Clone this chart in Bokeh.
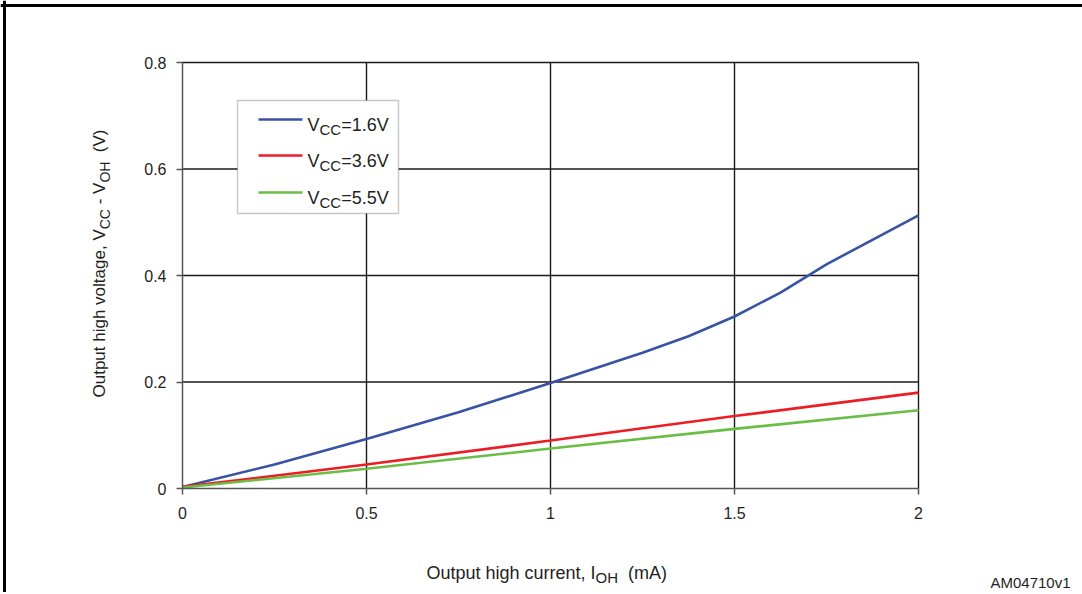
import math
from bokeh.plotting import figure
from bokeh.models import Label, BoxAnnotation, FixedTicker, LinearAxis, Range1d, Span
from bokeh.embed import file_html
from bokeh.resources import INLINE

# ---------------- data ----------------
i_oh_blue = [0, 0.25, 0.5, 0.75, 1.0, 1.25, 1.375, 1.5, 1.625, 1.75, 2.0]
v_blue = [0.003, 0.045, 0.093, 0.143, 0.198, 0.255, 0.286, 0.323, 0.368, 0.421, 0.513]
i_oh_red = [0, 0.5, 1.0, 1.5, 2.0]
v_red = [0.003, 0.045, 0.090, 0.136, 0.180]
i_oh_green = [0, 0.5, 1.0, 1.5, 2.0]
v_green = [0.002, 0.037, 0.075, 0.112, 0.147]
series_names = ["1.6V", "3.6V", "5.5V"]
series_colors = ["#3953a4", "#ed1c24", "#6abd45"]
x_ticks = [0, 0.5, 1, 1.5, 2]
x_tick_labels = ["0", "0.5", "1", "1.5", "2"]
y_ticks = [0, 0.2, 0.4, 0.6, 0.8]
y_tick_labels = ["0", "0.2", "0.4", "0.6", "0.8"]

FONT = "Liberation Sans"
TXT = "#231f20"

# ---------------- layout ----------------
W, H = 1082, 592
FL, FR, FT, FB = 182, 918, 62, 488  # plot area in page px
X0, X1, Y0, Y1 = 0, 2, 0, 0.8
PX_X = (FR - FL) / (X1 - X0)
PX_Y = (FB - FT) / (Y1 - Y0)

# the drawing frame covers the whole canvas so that titles outside the plot area are not clipped
p = figure(width=W, height=H, output_backend="svg", toolbar_location=None,
           x_range=Range1d(X0 - FL / PX_X, X0 + (W - FL) / PX_X),
           y_range=Range1d(Y0 - (H - FB) / PX_Y, Y0 + FB / PX_Y),
           x_axis_location=None, y_axis_location=None)
p.min_border = 0
p.min_border_left = 0
p.min_border_right = 0
p.min_border_top = 0
p.min_border_bottom = 0
p.background_fill_color = "white"
p.border_fill_color = "white"
p.outline_line_color = None
p.grid.visible = False


def dx(sx):
    return X0 + (sx - FL) / PX_X


def dy(sy):
    return Y0 + (FB - sy) / PX_Y


# outer box edges (left and top)
p.add_layout(Span(location=dx(4), dimension="height", line_color="black", line_width=3))
p.add_layout(Span(location=dy(5), dimension="width", line_color="black", line_width=3))

# grid lines from the tick values
p.segment(x0=x_ticks[1:], y0=[Y0] * (len(x_ticks) - 1), x1=x_ticks[1:], y1=[Y1] * (len(x_ticks) - 1),
          line_color="#1a1a1a", line_width=1.4, level="underlay")
p.segment(x0=[X0] * (len(y_ticks) - 1), y0=y_ticks[1:], x1=[X1] * (len(y_ticks) - 1), y1=y_ticks[1:],
          line_color="#1a1a1a", line_width=1.4, level="underlay")

# axes at fixed locations
xaxis = LinearAxis(fixed_location=Y0, bounds=(X0, X1))
yaxis = LinearAxis(fixed_location=X0, bounds=(Y0, Y1))
for ax, ticks, labels in ((xaxis, x_ticks, x_tick_labels), (yaxis, y_ticks, y_tick_labels)):
    ax.ticker = FixedTicker(ticks=ticks)
    ax.major_label_overrides = {t: l for t, l in zip(ticks, labels)}
    ax.minor_tick_line_color = None
    ax.major_tick_in = 0
    ax.major_tick_out = 6
    ax.axis_line_color = "#555555"
    ax.axis_line_width = 1.5
    ax.major_tick_line_color = "#555555"
    ax.major_tick_line_width = 1.5
    ax.major_label_text_font = FONT
    ax.major_label_text_font_size = "16px"
    ax.major_label_text_color = TXT
xaxis.major_label_standoff = 12
yaxis.major_label_standoff = 10
p.add_layout(xaxis, "below")
p.add_layout(yaxis, "left")

# series
p.line(i_oh_blue, v_blue, line_color=series_colors[0], line_width=2.6)
p.line(i_oh_red, v_red, line_color=series_colors[1], line_width=2.6)
p.line(i_oh_green, v_green, line_color=series_colors[2], line_width=2.6)

# text width helper (Helvetica/Arial metrics)
WID = {" ": 278, "(": 333, ")": 333, ",": 278, "-": 333, ".": 278, "=": 584,
       "A": 667, "C": 722, "H": 722, "I": 278, "M": 833, "O": 778, "V": 667,
       "a": 556, "c": 500, "e": 556, "g": 556, "h": 556, "i": 222, "l": 222,
       "m": 833, "n": 556, "o": 556, "p": 556, "r": 333, "t": 278, "u": 556,
       "v": 500, "y": 500}


def tw(s, size):
    return sum(WID.get(c, 556) for c in s) * size / 1000.0


def split_lead(txt):
    body = txt.lstrip(" ")
    return len(txt) - len(body), body


def rich_h(pieces, sx, sy, main=17, sub=13, drop=5):
    x = sx
    for txt, is_sub in pieces:
        size = sub if is_sub else main
        n, body = split_lead(txt)
        x += n * tw(" ", size)
        p.add_layout(Label(x=dx(x), y=dy(sy + (drop if is_sub else 0)), text=body,
                           text_font=FONT, text_font_size=f"{size}px", text_color=TXT,
                           text_align="left", text_baseline="alphabetic"))
        x += tw(body, size)


def rich_v(pieces, sx, sy, main=17, sub=13, drop=5):
    y = sy
    for txt, is_sub in pieces:
        size = sub if is_sub else main
        n, body = split_lead(txt)
        y -= n * tw(" ", size)
        p.add_layout(Label(x=dx(sx + (drop if is_sub else 0)), y=dy(y), text=body, angle=math.pi / 2,
                           text_font=FONT, text_font_size=f"{size}px", text_color=TXT,
                           text_align="left", text_baseline="alphabetic"))
        y -= tw(body, size)


# legend
p.add_layout(BoxAnnotation(left=dx(237), right=dx(398), top=dy(100), bottom=dy(213),
                           fill_color="white", fill_alpha=1.0, line_color="#444444", line_width=1.4))
row_y = [119, 155, 192]
for name, col, ry in zip(series_names, series_colors, row_y):
    p.segment(x0=[dx(258)], y0=[dy(ry)], x1=[dx(302)], y1=[dy(ry)], line_color=col, line_width=2.6,
              level="overlay")
    rich_h([("V", False), ("CC", True), ("=" + name, False)], 307, ry + 5, main=18, sub=15, drop=5)

# axis titles
rich_h([("Output high current, I", False), ("OH", True), ("  (mA)", False)], 426, 572, main=18, sub=15, drop=5)
rich_v([("Output high voltage, V", False), ("CC", True), (" - V", False), ("OH", True), ("  (V)", False)],
       99, 397, main=17, sub=14, drop=5)

# id label
p.add_layout(Label(x=dx(990), y=dy(582), text="AM04710v1", text_font=FONT, text_font_size="15px",
                   text_color=TXT, text_align="left", text_baseline="alphabetic"))

open("out.html", "w").write(file_html(p, INLINE))
